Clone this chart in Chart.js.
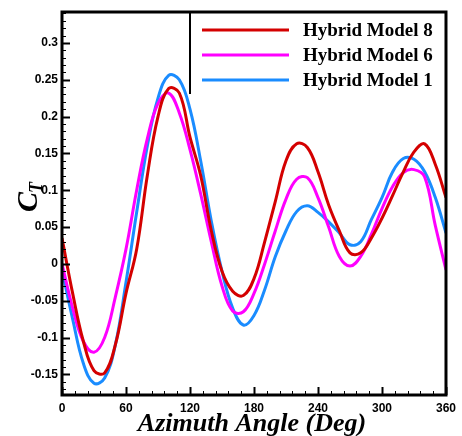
<!DOCTYPE html>
<html>
<head>
<meta charset="utf-8">
<script src="https://cdn.jsdelivr.net/npm/chart.js@4.4.0/dist/chart.umd.min.js"></script>
<style>
  html, body { margin: 0; padding: 0; background: #fff; }
  #wrap { width: 462px; height: 436px; }
</style>
</head>
<body>
<div id="wrap"><canvas id="chart" width="462" height="436"></canvas></div>
<script>
// Azimuth angle (deg) and thrust coefficient per model
const angles = [0, 10, 20, 30, 40, 50, 60, 70, 80, 90, 100, 110, 120, 130, 140, 150, 160, 170, 180,
                190, 200, 210, 220, 230, 240, 250, 260, 270, 280, 290, 300, 310, 320, 330, 340, 350, 360];

const model8 = [0.035, -0.04, -0.105, -0.145, -0.148, -0.11, -0.04, 0.02, 0.12, 0.2, 0.238, 0.232, 0.172,
                0.12, 0.045, -0.01, -0.037, -0.043, -0.02, 0.03, 0.085, 0.14, 0.163, 0.158, 0.125, 0.08,
                0.045, 0.015, 0.015, 0.035, 0.062, 0.093, 0.125, 0.152, 0.163, 0.135, 0.09];

const model6 = [0.0, -0.06, -0.105, -0.12, -0.1, -0.045, 0.02, 0.1, 0.17, 0.218, 0.232, 0.205, 0.155,
                0.095, 0.03, -0.03, -0.064, -0.065, -0.04, 0.0, 0.045, 0.088, 0.115, 0.117, 0.09, 0.05,
                0.01, -0.003, 0.01, 0.04, 0.075, 0.105, 0.124, 0.128, 0.118, 0.052, -0.008];

const model1 = [-0.008, -0.075, -0.135, -0.162, -0.155, -0.11, -0.025, 0.07, 0.16, 0.225, 0.256, 0.25, 0.21,
                0.14, 0.058, -0.01, -0.06, -0.083, -0.07, -0.035, 0.01, 0.045, 0.071, 0.079, 0.07, 0.057,
                0.042, 0.026, 0.03, 0.06, 0.09, 0.125, 0.143, 0.142, 0.125, 0.09, 0.042];

const seriesNames = ['Hybrid Model 8', 'Hybrid Model 6', 'Hybrid Model 1'];
const seriesColors = ['#d40000', '#ff00ff', '#1a8cff'];

const xTicks = [0, 60, 120, 180, 240, 300, 360];
const yTicks = [-0.15, -0.1, -0.05, 0, 0.05, 0.1, 0.15, 0.2, 0.25, 0.3];
const yTickLabels = ['-0.15', '-0.1', '-0.05', '0', '0.05', '0.1', '0.15', '0.2', '0.25', '0.3'];

const toPoints = vals => vals.map((v, i) => ({ x: angles[i], y: v }));

// frame, inward ticks, titles and legend
const decorations = {
    id: 'decorations',
    beforeDatasetsDraw(chart) {
        const ctx = chart.ctx;
        ctx.save();
        // left edge of the legend box
        ctx.strokeStyle = '#000';
        ctx.lineWidth = 2;
        ctx.beginPath();
        ctx.moveTo(190, chart.chartArea.top);
        ctx.lineTo(190, 94);
        ctx.stroke();
        ctx.restore();
    },
    afterDatasetsDraw(chart) {
        const { ctx, chartArea: a, scales } = chart;
        const xs = scales.x, ys = scales.y;
        ctx.save();
        ctx.strokeStyle = '#000';

        // minor + major ticks on x axis (inward)
        for (let d = 0; d <= 360; d += 12) {
            const px = Math.round(xs.getPixelForValue(d)) + 0.5;
            const major = d % 60 === 0;
            ctx.lineWidth = major ? 2 : 1;
            ctx.beginPath();
            ctx.moveTo(px, a.bottom);
            ctx.lineTo(px, a.bottom - (major ? 8 : 4));
            ctx.stroke();
        }
        // minor + major ticks on y axis (inward)
        for (let k = -17; k <= 34; k++) {
            const v = k / 100;
            const py = Math.round(ys.getPixelForValue(v)) + 0.5;
            const major = k % 5 === 0;
            ctx.lineWidth = major ? 2 : 1;
            ctx.beginPath();
            ctx.moveTo(a.left, py);
            ctx.lineTo(a.left + (major ? 8 : 4), py);
            ctx.stroke();
        }

        // frame
        ctx.lineWidth = 3;
        ctx.strokeRect(a.left, a.top, a.right - a.left, a.bottom - a.top);

        // legend
        ctx.lineWidth = 3;
        ctx.font = 'bold 19px "Liberation Serif", "Times New Roman", serif';
        ctx.textBaseline = 'middle';
        ctx.textAlign = 'left';
        const rowsY = [30, 55, 80];
        seriesNames.forEach((name, i) => {
            ctx.strokeStyle = seriesColors[i];
            ctx.beginPath();
            ctx.moveTo(202, rowsY[i]);
            ctx.lineTo(289, rowsY[i]);
            ctx.stroke();
            ctx.fillStyle = '#000';
            ctx.fillText(name, 303, rowsY[i] + 1);
        });

        // x title
        ctx.fillStyle = '#000';
        ctx.font = 'italic bold 26px "Liberation Serif", "Times New Roman", serif';
        ctx.textAlign = 'center';
        ctx.textBaseline = 'alphabetic';
        ctx.fillText('Azimuth Angle (Deg)', (a.left + a.right) / 2 - 2, 431);

        // y title C_T
        ctx.translate(37, 200);
        ctx.rotate(-Math.PI / 2);
        ctx.textAlign = 'left';
        ctx.font = 'italic bold 30px "Liberation Serif", "Times New Roman", serif';
        ctx.fillText('C', -12, 0);
        const cw = ctx.measureText('C').width;
        ctx.font = 'italic bold 18px "Liberation Serif", "Times New Roman", serif';
        ctx.fillText('T', -12 + cw - 1, 5);
        ctx.restore();
    }
};

new Chart(document.getElementById('chart'), {
    type: 'line',
    data: {
        datasets: [model8, model6, model1].map((vals, i) => ({
            label: seriesNames[i],
            data: toPoints(vals),
            borderColor: seriesColors[i],
            backgroundColor: seriesColors[i],
            borderWidth: 3,
            pointRadius: 0,
            tension: 0.4,
            fill: false
        }))
    },
    options: {
        responsive: false,
        devicePixelRatio: 1,
        animation: false,
        layout: { padding: { top: 12, right: 9, left: 0, bottom: 0 } },
        plugins: {
            legend: { display: false },
            tooltip: { enabled: false }
        },
        scales: {
            x: {
                type: 'linear',
                min: 0,
                max: 360,
                afterBuildTicks: s => { s.ticks = xTicks.map(v => ({ value: v })); },
                afterFit: s => { s.height = 41; },
                grid: { display: false, drawTicks: false },
                border: { display: false },
                ticks: {
                    padding: 6,
                    maxRotation: 0,
                    color: '#000',
                    font: { family: '"Liberation Sans", Arial, sans-serif', size: 12, weight: 'bold' },
                    callback: v => String(v)
                }
            },
            y: {
                type: 'linear',
                min: -0.178,
                max: 0.342,
                afterBuildTicks: s => { s.ticks = yTicks.map(v => ({ value: v })); },
                afterFit: s => { s.width = 62; },
                grid: { display: false, drawTicks: false },
                border: { display: false },
                ticks: {
                    padding: 4,
                    color: '#000',
                    font: { family: '"Liberation Sans", Arial, sans-serif', size: 12, weight: 'bold' },
                    callback: v => yTickLabels[yTicks.findIndex(t => Math.abs(t - v) < 1e-9)]
                }
            }
        }
    },
    plugins: [decorations]
});
</script>
</body>
</html>
